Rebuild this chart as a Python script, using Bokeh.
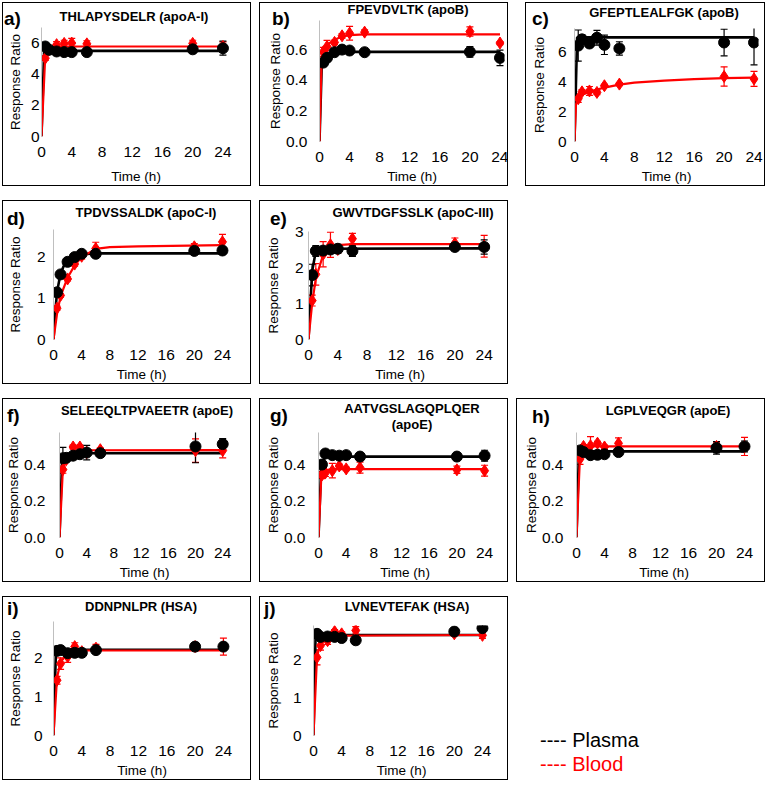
from bokeh.plotting import figure
from bokeh.models import (ColumnDataSource, Whisker, TeeHead, FixedTicker,
                          Div, Range1d, NumeralTickFormatter, GridBox)
from bokeh.embed import file_html
from bokeh.resources import INLINE

FONT = "Liberation Sans"
BLACK = "#000000"
RED = "#FF0000"

# ---------------- data ----------------
TIMES = [0.5, 1, 2, 3, 4, 6, 20, 24]
X_TICKS = [0, 4, 8, 12, 16, 20, 24]

# a) THLAPYSDELR (apoA-I)
A_PLASMA = [5.78, 5.57, 5.46, 5.42, 5.42, 5.42, 5.60, 5.67]
A_PLASMA_ERR = [0.10, 0.10, 0.10, 0.10, 0.10, 0.10, 0.25, 0.45]
A_BLOOD = [5.03, 5.57, 5.90, 5.98, 6.00, 5.95, 5.98, 5.78]
A_BLOOD_ERR = [0.15, 0.10, 0.20, 0.20, 0.30, 0.20, 0.20, 0.30]
A_PFIT_T = [0, 0.35, 24]
A_PFIT = [0, 5.50, 5.50]
A_BFIT_T = [0, 0.5, 1, 2, 24]
A_BFIT = [0, 5.20, 5.70, 5.78, 5.78]

# b) FPEVDVLTK (apoB)
B_PLASMA = [0.515, 0.546, 0.583, 0.600, 0.594, 0.583, 0.585, 0.546]
B_PLASMA_ERR = [0.010, 0.015, 0.010, 0.010, 0.010, 0.010, 0.035, 0.050]
B_BLOOD = [0.585, 0.620, 0.647, 0.690, 0.707, 0.714, 0.718, 0.643]
B_BLOOD_ERR = [0.030, 0.040, 0.015, 0.015, 0.045, 0.015, 0.030, 0.010]
B_PFIT_T = [0, 0.3, 1, 2, 24]
B_PFIT = [0, 0.50, 0.565, 0.585, 0.585]
B_BFIT_T = [0, 0.3, 0.5, 1, 2, 3, 4, 6, 24]
B_BFIT = [0, 0.57, 0.60, 0.63, 0.665, 0.685, 0.695, 0.700, 0.700]

# c) GFEPTLEALFGK (apoB)
C_PLASMA = [6.45, 6.87, 6.59, 6.98, 6.50, 6.26, 6.66, 6.66]
C_PLASMA_ERR = [1.05, 0.30, 0.20, 0.50, 0.65, 0.45, 0.90, 1.50]
C_BLOOD = [2.88, 3.34, 3.40, 3.30, 3.75, 3.86, 4.37, 4.21]
C_BLOOD_ERR = [0.25, 0.15, 0.30, 0.15, 0.10, 0.10, 0.65, 0.50]
C_PFIT_T = [0, 0.35, 24]
C_PFIT = [0, 7.0, 7.0]
C_BFIT_T = [0, 0.2, 0.5, 1, 2, 3, 4, 6, 8, 12, 16, 20, 24]
C_BFIT = [0, 2.50, 2.95, 3.15, 3.35, 3.50, 3.62, 3.82, 3.96, 4.10, 4.20, 4.26, 4.30]

# d) TPDVSSALDK (apoC-I)
D_PLASMA = [1.145, 1.58, 1.885, 2.00, 2.08, 2.08, 2.15, 2.16]
D_PLASMA_ERR = [0.04, 0.04, 0.04, 0.04, 0.04, 0.04, 0.07, 0.08]
D_BLOOD = [0.76, 1.07, 1.47, 1.83, 2.02, 2.21, 2.25, 2.37]
D_BLOOD_ERR = [0.05, 0.04, 0.05, 0.05, 0.07, 0.15, 0.08, 0.18]
D_PFIT_T = [0, 0.25, 0.5, 1, 1.5, 2, 3, 4, 6, 24]
D_PFIT = [0, 0.65, 1.15, 1.60, 1.80, 1.92, 2.03, 2.07, 2.09, 2.09]
D_BFIT_T = [0, 0.5, 1, 2, 3, 4, 6, 8, 12, 24]
D_BFIT = [0, 0.62, 1.05, 1.50, 1.80, 2.00, 2.20, 2.24, 2.26, 2.29]

# e) GWVTDGFSSLK (apoC-III)
E_PLASMA = [1.79, 2.46, 2.47, 2.50, 2.52, 2.46, 2.57, 2.57]
E_PLASMA_ERR = [0.30, 0.15, 0.05, 0.05, 0.12, 0.15, 0.10, 0.20]
E_BLOOD = [1.08, 1.81, 2.37, 2.63, 2.50, 2.80, 2.67, 2.59]
E_BLOOD_ERR = [0.15, 0.30, 0.35, 0.35, 0.10, 0.15, 0.15, 0.30]
E_PFIT_T = [0, 0.5, 1, 1.5, 24]
E_PFIT = [0, 1.90, 2.45, 2.52, 2.53]
E_BFIT_T = [0, 0.5, 1, 2, 3, 4, 6, 24]
E_BFIT = [0, 1.00, 1.70, 2.35, 2.55, 2.62, 2.65, 2.65]

# f) SELEEQLTPVAEETR (apoE)
F_PLASMA = [0.438, 0.440, 0.452, 0.460, 0.469, 0.466, 0.503, 0.516]
F_PLASMA_ERR = [0.060, 0.010, 0.010, 0.010, 0.040, 0.010, 0.090, 0.030]
F_BLOOD = [0.375, 0.430, 0.500, 0.500, 0.470, 0.485, 0.480, 0.480]
F_BLOOD_ERR = [0.020, 0.010, 0.010, 0.010, 0.010, 0.010, 0.065, 0.040]
F_PFIT_T = [0, 0.4, 1, 2, 24]
F_PFIT = [0, 0.440, 0.455, 0.465, 0.466]
F_BFIT_T = [0, 0.5, 1, 2, 3, 24]
F_BFIT = [0, 0.380, 0.440, 0.475, 0.482, 0.483]

# g) AATVGSLAGQPLQER (apoE)
G_PLASMA = [0.403, 0.464, 0.455, 0.452, 0.455, 0.447, 0.447, 0.452]
G_PLASMA_ERR = [0.010, 0.010, 0.010, 0.010, 0.010, 0.020, 0.020, 0.030]
G_BLOOD = [0.345, 0.357, 0.369, 0.395, 0.379, 0.386, 0.374, 0.369]
G_BLOOD_ERR = [0.020, 0.020, 0.040, 0.010, 0.010, 0.030, 0.020, 0.030]
G_PFIT_T = [0, 0.4, 1, 24]
G_PFIT = [0, 0.400, 0.447, 0.447]
G_BFIT_T = [0, 0.4, 1, 2, 24]
G_BFIT = [0, 0.330, 0.370, 0.378, 0.378]

# h) LGPLVEQGR (apoE)
H_PLASMA = [0.481, 0.472, 0.455, 0.457, 0.460, 0.472, 0.495, 0.503]
H_PLASMA_ERR = [0.010, 0.010, 0.010, 0.010, 0.010, 0.010, 0.035, 0.030]
H_BLOOD = [0.434, 0.503, 0.507, 0.521, 0.500, 0.520, 0.503, 0.503]
H_BLOOD_ERR = [0.030, 0.010, 0.050, 0.010, 0.010, 0.030, 0.020, 0.050]
H_PFIT_T = [0, 0.35, 24]
H_PFIT = [0, 0.476, 0.476]
H_BFIT_T = [0, 0.5, 1, 2, 24]
H_BFIT = [0, 0.450, 0.490, 0.503, 0.503]

# i) DDNPNLPR (HSA)
I_PLASMA = [2.19, 2.21, 2.13, 2.14, 2.14, 2.21, 2.30, 2.30]
I_PLASMA_ERR = [0.03, 0.03, 0.03, 0.03, 0.03, 0.07, 0.10, 0.10]
I_BLOOD = [1.43, 1.86, 2.04, 2.30, 2.17, 2.26, 2.30, 2.30]
I_BLOOD_ERR = [0.10, 0.15, 0.15, 0.10, 0.03, 0.10, 0.10, 0.22]
I_PFIT_T = [0, 0.35, 24]
I_PFIT = [0, 2.22, 2.22]
I_BFIT_T = [0, 0.5, 1, 2, 3, 4, 24]
I_BFIT = [0, 1.50, 1.90, 2.12, 2.18, 2.20, 2.20]

# j) LVNEVTEFAK (HSA)
J_PLASMA = [2.68, 2.60, 2.61, 2.60, 2.57, 2.51, 2.74, 2.83]
J_PLASMA_ERR = [0.10, 0.03, 0.03, 0.03, 0.03, 0.03, 0.10, 0.08]
J_BLOOD = [2.06, 2.37, 2.50, 2.74, 2.68, 2.77, 2.68, 2.64]
J_BLOOD_ERR = [0.20, 0.12, 0.10, 0.05, 0.05, 0.10, 0.05, 0.08]
J_PFIT_T = [0, 0.3, 24]
J_PFIT = [0, 2.65, 2.65]
J_BFIT_T = [0, 0.5, 1, 2, 3, 24]
J_BFIT = [0, 2.10, 2.40, 2.58, 2.63, 2.65]

# ---------------- drawing ----------------
W, H = 249, 184
ASC = 0.8465  # baseline offset (em) of Liberation Sans with line-height 1


def panel(plasma, plasma_err, blood, blood_err, pfit_t, pfit, bfit_t, bfit,
          y_end, y_ticks, y_fmt, left, right, top, bottom, x_end,
          ys1, ys2, xs1=10, xs2=4):
    p = figure(width=W, height=H, output_backend="svg", toolbar_location=None,
               x_range=Range1d(0, x_end), y_range=Range1d(0, y_end),
               min_border_left=left, min_border_right=right,
               min_border_top=top, min_border_bottom=bottom)
    if "frame_align" in p.properties():
        p.frame_align = False
    p.background_fill_color = "white"
    p.border_fill_color = "white"
    p.outline_line_color = None
    p.grid.visible = False

    for ax in (p.xaxis[0], p.yaxis[0]):
        ax.major_tick_line_color = None
        ax.minor_tick_line_color = None
        ax.major_tick_out = 0
        ax.major_tick_in = 0
        ax.minor_tick_out = 0
        ax.minor_tick_in = 0
        ax.major_label_text_font = FONT
        ax.major_label_text_font_size = "15.5px"
        ax.major_label_text_color = "#000"
        ax.axis_label_text_font = FONT
        ax.axis_label_text_font_size = "13.5px"
        ax.axis_label_text_font_style = "normal"
        ax.axis_label_text_color = "#000"
    p.xaxis.major_label_standoff = xs1
    p.xaxis.axis_label_standoff = xs2
    p.yaxis.major_label_standoff = ys1
    p.yaxis.axis_label_standoff = ys2
    p.xaxis.axis_line_color = None
    p.yaxis.axis_line_color = "#BFBFBF"
    p.xaxis.ticker = FixedTicker(ticks=X_TICKS)
    p.yaxis.ticker = FixedTicker(ticks=y_ticks)
    p.yaxis.formatter = NumeralTickFormatter(format=y_fmt)
    p.xaxis.axis_label = "Time (h)"
    p.yaxis.axis_label = "Response Ratio"

    ps = ColumnDataSource(dict(t=TIMES, y=plasma,
                               lo=[v - e for v, e in zip(plasma, plasma_err)],
                               hi=[v + e for v, e in zip(plasma, plasma_err)]))
    bs = ColumnDataSource(dict(t=TIMES, y=blood,
                               lo=[v - e for v, e in zip(blood, blood_err)],
                               hi=[v + e for v, e in zip(blood, blood_err)]))
    for src, col in ((bs, RED), (ps, BLACK)):
        p.add_layout(Whisker(source=src, base="t", lower="lo", upper="hi",
                             line_color=col, line_width=1.2,
                             upper_head=TeeHead(size=7, line_color=col, line_width=1.2),
                             lower_head=TeeHead(size=7, line_color=col, line_width=1.2)))

    p.line(pfit_t, pfit, line_color=BLACK, line_width=2.6)
    p.line(bfit_t, bfit, line_color=RED, line_width=2.2)
    p.scatter("t", "y", source=bs, marker="diamond", size=12,
              fill_color=RED, line_color=RED)
    p.scatter("t", "y", source=ps, marker="circle", size=11,
              fill_color=BLACK, line_color=BLACK)
    return p


def overlay(letter, title_lines, title_cx, title_bases, letter_x, letter_base,
            dx=0, bw=W):
    """Panel box with its letter and peptide title (HTML text over the figure)."""
    html = [f"<div style=\"position:relative; margin-left:{dx}px; width:{bw}px; height:{H}px;"
            f" box-sizing:border-box; border:1px solid #000; font-family:'{FONT}', Arial;"
            f" color:#000;\">"]
    html.append(f"<span style=\"position:absolute; left:{letter_x - 1}px;"
                f" top:{letter_base - 1 - ASC * 19:.1f}px; font-size:19px; line-height:19px;"
                f" font-weight:bold; white-space:nowrap;\">{letter}</span>")
    for line, base in zip(title_lines, title_bases):
        html.append(f"<span style=\"position:absolute; left:{title_cx - 151}px; width:300px;"
                    f" text-align:center; top:{base - 1 - ASC * 13:.1f}px; font-size:13px;"
                    f" line-height:13px; font-weight:bold; white-space:nowrap;\">{line}</span>")
    html.append("</div>")
    return Div(text="".join(html), width=W, height=H, margin=(0, 0, 0, 0),
               styles={"position": "relative", "z-index": "5", "pointer-events": "none"})


pa = panel(A_PLASMA, A_PLASMA_ERR, A_BLOOD, A_BLOOD_ERR, A_PFIT_T, A_PFIT, A_BFIT_T, A_BFIT,
           7.0, [0, 2, 4, 6], "0", 39, 21, 25, 49, 25, ys1=2, ys2=5, xs1=10, xs2=9)
pb = panel(B_PLASMA, B_PLASMA_ERR, B_BLOOD, B_BLOOD_ERR, B_PFIT_T, B_PFIT, B_BFIT_T, B_BFIT,
           0.79, [0, 0.2, 0.4, 0.6], "0.0", 60, 4, 18, 43, 24.6, ys1=12, ys2=0)
pc = panel(C_PLASMA, C_PLASMA_ERR, C_BLOOD, C_BLOOD_ERR, C_PFIT_T, C_PFIT, C_BFIT_T, C_BFIT,
           7.6, [0, 2, 4, 6], "0", 58, 7, 26, 41, 24.6, ys1=8, ys2=8)
pd_ = panel(D_PLASMA, D_PLASMA_ERR, D_BLOOD, D_BLOOD_ERR, D_PFIT_T, D_PFIT, D_BFIT_T, D_BFIT,
            2.67, [0, 1, 2], "0", 51, 22, 29, 39, 25, ys1=8, ys2=11)
pe = panel(E_PLASMA, E_PLASMA_ERR, E_BLOOD, E_BLOOD_ERR, E_PFIT_T, E_PFIT, E_BFIT_T, E_BFIT,
           3.0, [0, 1, 2, 3], "0", 49, 17, 31, 37, 25, ys1=5, ys2=11)
pf = panel(F_PLASMA, F_PLASMA_ERR, F_BLOOD, F_BLOOD_ERR, F_PFIT_T, F_PFIT, F_BFIT_T, F_BFIT,
           0.58, [0, 0.2, 0.4], "0.0", 57, 22, 34, 38, 25, ys1=14, ys2=0)
pg = panel(G_PLASMA, G_PLASMA_ERR, G_BLOOD, G_BLOOD_ERR, G_PFIT_T, G_PFIT, G_BFIT_T, G_BFIT,
           0.58, [0, 0.2, 0.4], "0.0", 59, 17, 34, 38, 25, ys1=13, ys2=0)
ph = panel(H_PLASMA, H_PLASMA_ERR, H_BLOOD, H_BLOOD_ERR, H_PFIT_T, H_PFIT, H_BFIT_T, H_BFIT,
           0.58, [0, 0.2, 0.4], "0.0", 60, 14, 34, 38, 25, ys1=13, ys2=0)
pi = panel(I_PLASMA, I_PLASMA_ERR, I_BLOOD, I_BLOOD_ERR, I_PFIT_T, I_PFIT, I_BFIT_T, I_BFIT,
           2.95, [0, 1, 2], "0", 51, 21, 25, 42, 25, ys1=11, ys2=8)
pj = panel(J_PLASMA, J_PLASMA_ERR, J_BLOOD, J_BLOOD_ERR, J_PFIT_T, J_PFIT, J_BFIT_T, J_BFIT,
           2.9, [0, 1, 2], "0", 54, 19, 29, 42, 25, ys1=12, ys2=9)

oa = overlay("a)", ["THLAPYSDELR (apoA-I)"], 132, [19], 2, 23)
ob = overlay("b)", ["FPEVDVLTK (apoB)"], 149, [12], 13, 23)
oc = overlay("c)", ["GFEPTLEALFGK (apoB)"], 139, [15], 7, 23, dx=9, bw=W - 9)
od = overlay("d)", ["TPDVSSALDK (apoC-I)"], 144, [17], 5, 25)
oe = overlay("e)", ["GWVTDGFSSLK (apoC-III)"], 154, [17], 11, 25)
of = overlay("f)", ["SELEEQLTPVAEETR (apoE)"], 145, [17], 5, 24)
og = overlay("g)", ["AATVGSLAGQPLQER", "(apoE)"], 153, [15, 31], 11, 24)
oh = overlay("h)", ["LGPLVEQGR (apoE)"], 152, [17], 16, 25)
oi = overlay("i)", ["DDNPNLPR (HSA)"], 139, [15], 5, 19)
oj = overlay("j)", ["LVNEVTEFAK (HSA)"], 148, [15], 5, 19)

legend = Div(width=W, height=H, margin=(0, 0, 0, 0), text=(
    f"<div style=\"position:relative; width:{W}px; height:{H}px; font-family:'{FONT}', Arial;"
    " font-size:20px; line-height:20px; white-space:pre;\">"
    f"<span style=\"position:absolute; left:24px; top:{151 - ASC * 20:.1f}px; color:#000;\">"
    "---- Plasma</span>"
    f"<span style=\"position:absolute; left:24px; top:{175 - ASC * 20:.1f}px; color:#FF0000;\">"
    "---- Blood</span></div>"))

grid = GridBox(children=[
    (pa, 0, 0), (oa, 0, 0), (pb, 0, 1), (ob, 0, 1), (pc, 0, 2), (oc, 0, 2),
    (pd_, 1, 0), (od, 1, 0), (pe, 1, 1), (oe, 1, 1),
    (pf, 2, 0), (of, 2, 0), (pg, 2, 1), (og, 2, 1), (ph, 2, 2), (oh, 2, 2),
    (pi, 3, 0), (oi, 3, 0), (pj, 3, 1), (oj, 3, 1), (legend, 3, 2),
], spacing=(14, 8), margin=(2, 0, 0, 2))

open("out.html", "w").write(file_html(grid, INLINE))
